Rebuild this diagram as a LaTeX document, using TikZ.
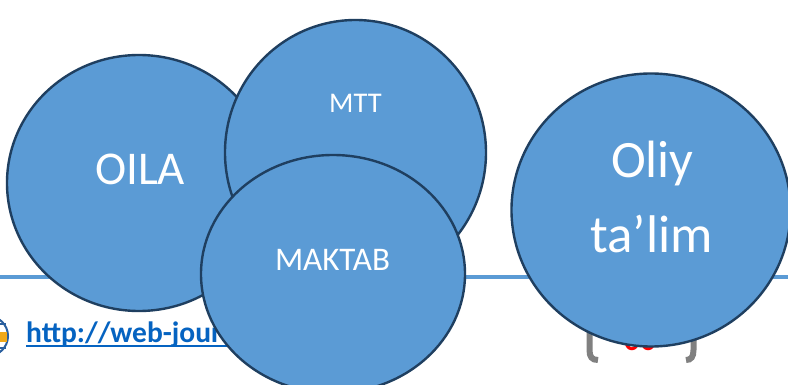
\documentclass[tikz,border=0pt]{standalone}
\usepackage{fontspec}
\setmainfont{Carlito}
\usetikzlibrary{shapes.geometric}
\definecolor{fillblue}{HTML}{5B9BD5}
\definecolor{edgeblue}{HTML}{1F3F60}
\definecolor{linkblue}{HTML}{0563C1}
\definecolor{bracketgray}{HTML}{808080}
\definecolor{globeblue}{HTML}{2A5F9E}
\definecolor{iconyellow}{HTML}{F0A818}
\tikzset{
  bubble/.style={ellipse,draw=edgeblue,line width=2.4pt,fill=fillblue,inner sep=0pt},
  bubbletext/.style={text=white,inner sep=0pt,anchor=base},
}
\begin{document}
\begin{tikzpicture}[x=1pt,y=-1pt]
\useasboundingbox (0,0) rectangle (788,385);
\begin{scope}
\clip (0,0) rectangle (788,385);
\fill[white] (0,0) rectangle (788,385);
% header rule
\fill[fillblue] (0,275) rectangle (788,279);
% globe icon
\draw[globeblue,line width=2pt] (-12,336) circle (20);
\draw[globeblue,line width=1.2pt] (-12,336) ellipse (11 and 20);
\draw[globeblue,line width=1.2pt] (-30,324) -- (6,324) (-30,348) -- (6,348);
\fill[iconyellow] (-10,332) rectangle (7,342);
% link
\node[anchor=base west,inner sep=0pt,font=\fontsize{29.5}{31}\selectfont\bfseries,text=linkblue] (link) at (26,342) {http://web-journal.uz/};
\draw[linkblue,line width=2pt] (26,345.5) -- (260,345.5);
% page number and brackets
\node[anchor=base,inner sep=0pt,font=\fontsize{32}{34}\selectfont\bfseries,text=red] (pagenum) at (640,350) {00};
\draw[bracketgray,line width=6pt] (589.5,325) -- (589.5,350) .. controls (589.5,357) and (592,360) .. (598,360);
\draw[bracketgray,line width=6pt] (693.5,325) -- (693.5,350) .. controls (693.5,357) and (691,360) .. (686,360);
% circles
\node[bubble,minimum width=264pt,minimum height=256pt] (oila) at (139,183) {};
\node[bubble,minimum width=261pt,minimum height=265pt] (mtt) at (355.5,152.5) {};
\node[bubble,minimum width=264pt,minimum height=238pt] (maktab) at (333,274) {};
\node[bubble,minimum width=279pt,minimum height=273pt] (oliy) at (651,210) {};
% labels
\node[bubbletext,font=\fontsize{47}{50}\selectfont] (oilatext) at (140,184.5) {OILA};
\node[bubbletext,font=\fontsize{28.5}{30}\selectfont] (mtttext) at (355.5,113) {MTT};
\node[bubbletext,font=\fontsize{33}{35}\selectfont] (maktabtext) at (332.5,270) {MAKTAB};
\node[bubbletext,font=\fontsize{52.5}{55}\selectfont] (oliytext) at (652.5,178) {Oliy};
\node[bubbletext,font=\fontsize{53}{55}\selectfont] (talimtext) at (651.5,252) {ta’lim};
\end{scope}
\end{tikzpicture}
\end{document}
